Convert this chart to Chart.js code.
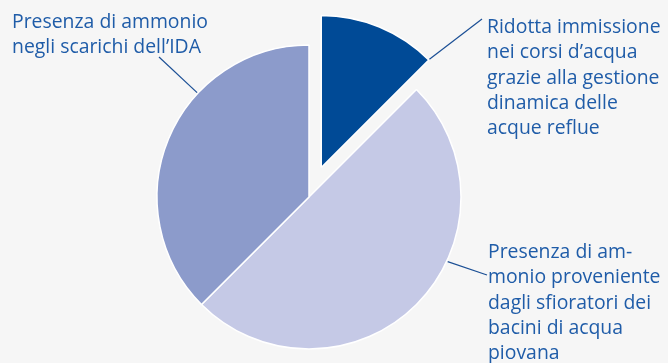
<!DOCTYPE html>
<html>
<head>
<meta charset="utf-8">
<script src="https://cdn.jsdelivr.net/npm/chart.js@4/dist/chart.umd.min.js"></script>
<style>
  html, body { margin: 0; padding: 0; background: #f6f6f6; }
  #wrap { width: 668px; height: 363px; position: relative; }
</style>
</head>
<body>
<div id="wrap"><canvas id="pie-chart"></canvas></div>
<script>
// Pie data
const categories = [
    ['Ridotta immissione', 'nei corsi d\u2019acqua', 'grazie alla gestione', 'dinamica delle', 'acque reflue'],
    ['Presenza di am-', 'monio proveniente', 'dagli sfioratori dei', 'bacini di acqua', 'piovana'],
    ['Presenza di ammonio', 'negli scarichi dell\u2019IDA'],
];
const shares = [12.5, 50, 37.5];
const sliceColors = ['#004a96', '#c5c9e6', '#8c9bcb'];

// label placement: text position + leader line (angle on the arc, end point)
const labelLayout = [
    { x: 487, y: 33, angle: -45, endX: 482, endY: 19 },
    { x: 488, y: 258, angle: 25, endX: 487, endY: 275 },
    { x: 12, y: 28, angle: -137, endX: 159, endY: 57 },
];
const explodeDistance = 32;
const lineHeight = 25.3;
const textColor = '#1f5ca8';
const leaderColor = '#1b4f95';

const explodePlugin = {
    id: 'explode',
    afterDatasetUpdate(chart, args) {
        const arc = args.meta.data[0];
        const mid = (arc.startAngle + arc.endAngle) / 2;
        arc.x += Math.cos(mid) * explodeDistance;
        arc.y += Math.sin(mid) * explodeDistance;
    }
};

const labelPlugin = {
    id: 'sliceLabels',
    afterDraw(chart) {
        const ctx = chart.ctx;
        const arcs = chart.getDatasetMeta(0).data;
        ctx.save();
        ctx.strokeStyle = leaderColor;
        ctx.lineWidth = 1.2;
        arcs.forEach((arc, i) => {
            const l = labelLayout[i];
            const a = l.angle * Math.PI / 180;
            const r = arc.outerRadius + 1;
            ctx.beginPath();
            ctx.moveTo(arc.x + Math.cos(a) * r, arc.y + Math.sin(a) * r);
            ctx.lineTo(l.endX, l.endY);
            ctx.stroke();
        });
        ctx.fillStyle = textColor;
        ctx.font = '19.4px "Open Sans"';
        ctx.textBaseline = 'alphabetic';
        categories.forEach((lines, i) => {
            const l = labelLayout[i];
            lines.forEach((line, j) => {
                ctx.fillText(line, l.x, l.y + j * lineHeight);
            });
        });
        ctx.restore();
    }
};

const pieCtx = document.getElementById('pie-chart').getContext('2d');

new Chart(pieCtx, {
    type: 'pie',
    data: {
        labels: categories,
        datasets: [{
            data: shares,
            backgroundColor: sliceColors,
            borderColor: '#ffffff',
            borderWidth: 1.5,
            clip: false,
        }],
    },
    options: {
        responsive: true,
        maintainAspectRatio: false,
        animation: false,
        radius: 152,
        layout: { padding: { left: 0, right: 50, top: 31, bottom: 0 } },
        plugins: {
            legend: { display: false },
            tooltip: { enabled: false },
        },
    },
    plugins: [explodePlugin, labelPlugin],
});
</script>
</body>
</html>
